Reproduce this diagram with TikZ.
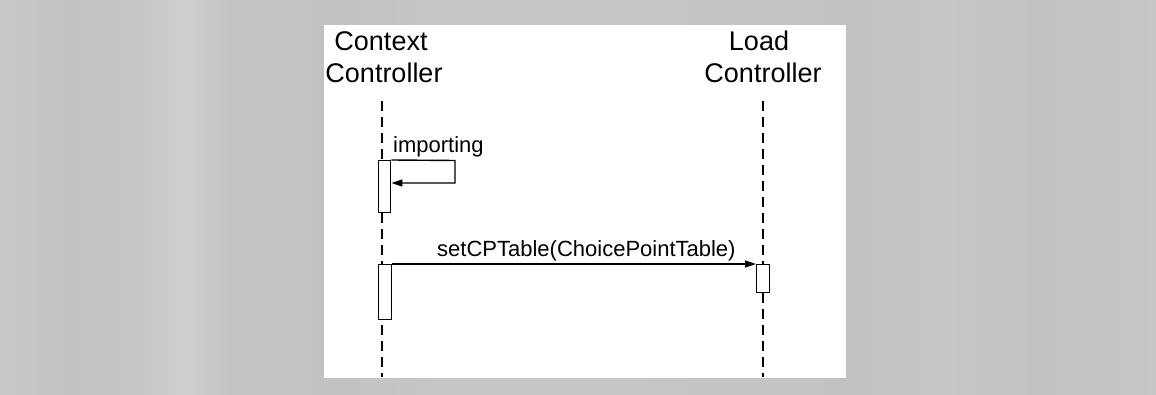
\documentclass[tikz,border=0pt]{standalone}
\usepackage{fontspec}
\setmainfont{Liberation Sans}
\usetikzlibrary{arrows.meta}

% soft vertical bands of the grey paper around the white panel
\pgfdeclarehorizontalshading{paperbands}{100bp}{%
  color(0bp)=(black!21);
  color(25bp)=(black!21);
  color(28bp)=(black!24);
  color(31bp)=(black!22);
  color(33bp)=(black!19);
  color(35bp)=(black!23);
  color(40bp)=(black!24);
  color(44bp)=(black!22);
  color(52bp)=(black!22);
  color(62bp)=(black!24);
  color(66bp)=(black!22);
  color(70bp)=(black!24);
  color(75bp)=(black!22);
  color(100bp)=(black!22)}

\begin{document}
\begin{tikzpicture}[x=1pt,y=-1pt,
  head/.style={font=\fontsize{27}{32}\selectfont, inner sep=0pt, anchor=base},
  msglabel/.style={font=\fontsize{22}{26}\selectfont, inner sep=0pt, anchor=base west},
  lifeline/.style={line width=2.8pt, dash pattern=on 10pt off 6pt},
  actbox/.style={draw, fill=white, line width=1.4pt, minimum width=12.5pt,
    inner sep=0pt, anchor=north},
  msg/.style={line width=1.4pt, -{Triangle[length=11pt,width=7pt]}}]

  % page and panel
  \useasboundingbox (0,0) rectangle (1156,395);
  \shade[shading=paperbands] (0,0) rectangle (1156,395);
  \fill[white] (324,25) rectangle (846,378);

  % participants
  \node[head] (ctxA) at (381,51) {Context};
  \node[head] (ctxB) at (384,83) {Controller};
  \node[head] (ldA)  at (759,51) {Load};
  \node[head] (ldB)  at (763,83) {Controller};

  % lifelines
  \coordinate (ctxTop) at (382,101);
  \coordinate (ctxBot) at (382,377);
  \coordinate (ldTop)  at (763,101);
  \coordinate (ldBot)  at (763,377);
  \draw[lifeline] (ctxTop) -- (ctxBot);
  \draw[lifeline] (ldTop) -- (ldBot);

  % activations
  \node[actbox, minimum height=52pt] (act1) at (384.5,160) {};
  \node[actbox, minimum height=55pt] (act2) at (385,264) {};
  \node[actbox, minimum height=28pt] (act3) at (763,264) {};

  % self call
  \coordinate (selfA) at (455,160.5);
  \coordinate (selfB) at (455,183);
  \draw[msg] (act1.north east) -- (selfA) -- (selfB) -- (act1.east |- selfB);
  \node[msglabel] (lblImp) at (393,153) {importing};

  % call to the load controller
  \draw[msg] (act2.north east) -- (act3.north west);
  \node[msglabel] (lblSet) at (437,257) {setCPTable(ChoicePointTable)};
\end{tikzpicture}
\end{document}
